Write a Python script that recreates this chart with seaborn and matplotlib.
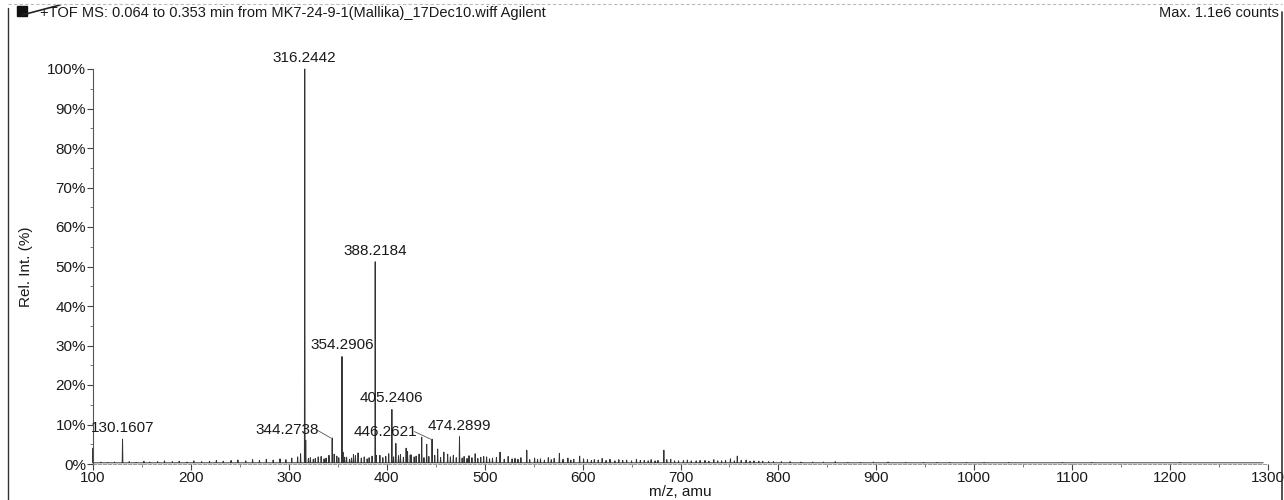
import numpy as np
import pandas as pd
import matplotlib
matplotlib.use("Agg")
import matplotlib.pyplot as plt
from matplotlib.lines import Line2D
from matplotlib.patches import Rectangle
from matplotlib.ticker import MultipleLocator, FixedLocator
import seaborn as sns

# ---- spectrum data (m/z, relative intensity %) ----
labelled_mz = [130.1607, 316.2442, 344.2738, 354.2906, 388.2184, 405.2406, 446.2621, 474.2899]
labelled_ri = [6.3, 100.0, 6.6, 27.2, 51.2, 13.8, 6.3, 6.9]

minor_mz = [100.0, 317.25, 346.3, 355.3, 370.7, 389.2, 409.3, 419.8, 421.2, 435.7, 440.8,
            452.0, 458.3, 462.2, 490.3, 515.7, 543.0, 576.3, 597.0, 683.0, 758.0]
minor_ri = [4.0, 6.0, 2.5, 3.0, 2.8, 2.2, 5.2, 4.0, 3.2, 6.8, 5.0,
            3.8, 3.0, 2.5, 2.6, 3.0, 3.5, 2.7, 2.0, 3.5, 2.0]

noise_mz = [108, 115, 122, 137, 144, 152, 158, 166, 173, 181, 188, 196, 203, 211, 219,
            226, 233, 241, 248, 256, 263, 270, 277, 284, 291, 297, 303, 309, 312, 320,
            322, 325, 327, 330, 333, 336, 338, 341, 349, 351, 357, 359, 362, 364, 366,
            368, 374, 377, 380, 382, 385, 393, 396, 399, 402, 407, 412, 414, 417, 424,
            425, 428, 430, 433, 438, 443, 449, 455, 465, 468, 471, 477, 479, 482, 484,
            487, 493, 496, 499, 502, 505, 508, 512, 520, 524, 528, 531, 534, 537, 546,
            551, 554, 557, 561, 565, 568, 571, 580, 585, 588, 591, 601, 605, 609, 612,
            616, 620, 624, 628, 633, 637, 641, 645, 650, 655, 659, 663, 667, 670, 674,
            677, 686, 690, 694, 698, 703, 707, 711, 716, 720, 725, 729, 734, 738, 742,
            746, 751, 755, 762, 767, 771, 775, 780, 784, 790, 795, 803, 812, 823, 835,
            846, 858, 871, 884, 897, 912, 930, 948, 962, 975, 992, 1010, 1035, 1060,
            1090, 1120, 1150, 1180, 1210, 1240, 1270]
noise_ri = [0.5, 0.4, 0.5, 0.6, 0.4, 0.7, 0.5, 0.6, 0.8, 0.6, 0.7, 0.5, 0.8, 0.6, 0.7,
            0.9, 0.7, 0.9, 1.0, 0.8, 1.1, 0.9, 1.2, 1.0, 1.3, 1.1, 1.5, 1.8, 2.6, 1.4,
            1.6, 1.2, 1.4, 1.8, 1.9, 1.3, 1.5, 2.2, 2.0, 1.6, 1.7, 1.7, 1.2, 1.5, 2.4,
            2.1, 1.5, 1.8, 1.3, 1.6, 2.0, 2.2, 1.6, 1.9, 2.6, 1.8, 2.1, 2.4, 1.7, 2.3,
            2.3, 1.8, 2.0, 2.5, 1.6, 1.9, 2.2, 1.7, 1.8, 2.2, 1.6, 1.5, 1.9, 1.4, 2.1,
            1.6, 1.4, 1.7, 1.9, 1.8, 1.3, 1.5, 1.7, 1.2, 1.9, 1.3, 1.4, 1.2, 1.6, 1.1,
            1.5, 1.2, 1.3, 1.0, 1.6, 1.1, 1.4, 1.2, 1.5, 1.0, 1.2, 1.3, 1.1, 0.9, 1.1,
            1.0, 1.4, 0.9, 1.2, 0.8, 1.1, 0.9, 1.0, 0.8, 1.2, 0.9, 0.9, 0.8, 1.1, 0.8,
            0.9, 1.1, 1.2, 0.8, 0.8, 0.9, 1.0, 0.8, 0.8, 0.9, 0.9, 0.7, 1.1, 0.8, 0.8,
            0.9, 1.3, 0.8, 0.9, 1.0, 0.7, 0.8, 0.7, 0.7, 0.6, 0.6, 0.6, 0.6, 0.5, 0.5,
            0.5, 0.6, 0.4, 0.4, 0.5, 0.5, 0.4, 0.4, 0.4, 0.4, 0.4, 0.4, 0.4, 0.3,
            0.4, 0.4, 0.3, 0.3, 0.4, 0.3, 0.3]

baseline_ri = 0.3
mz_range = [100, 1300]
mz_ticks = [100, 200, 300, 400, 500, 600, 700, 800, 900, 1000, 1100, 1200, 1300]
ri_ticks = [0, 10, 20, 30, 40, 50, 60, 70, 80, 90, 100]

title_left = "+TOF MS: 0.064 to 0.353 min from MK7-24-9-1(Mallika)_17Dec10.wiff Agilent"
title_right = "Max. 1.1e6 counts"

# ---- build a continuous stick trace ----
peaks = sorted(zip(labelled_mz + minor_mz + noise_mz, labelled_ri + minor_ri + noise_ri))
xs, ys = [mz_range[0]], [baseline_ri]
for m, h in peaks:
    xs += [m - 0.35, m, m + 0.35]
    ys += [baseline_ri, h, baseline_ri]
xs.append(1295)
ys.append(baseline_ri)
trace = pd.DataFrame({"mz": xs, "ri": ys})

sns.set_theme(style="ticks")
plt.rcParams["font.family"] = ["Liberation Sans", "DejaVu Sans"]

fig = plt.figure(figsize=(12.84, 5.0), dpi=100)
ax = fig.add_axes([93 / 1284, 36 / 500, 1175 / 1284, 395 / 500])

sns.lineplot(data=trace, x="mz", y="ri", sort=False, estimator=None,
             color="#333333", lw=0.7, ax=ax, clip_on=False)

ax.set_xlim(*mz_range)
ax.set_ylim(0, 100)
ax.xaxis.set_major_locator(FixedLocator(mz_ticks))
ax.xaxis.set_minor_locator(MultipleLocator(50))
ax.yaxis.set_major_locator(FixedLocator(ri_ticks))
ax.yaxis.set_minor_locator(MultipleLocator(5))
ax.set_xticklabels([str(t) for t in mz_ticks])
ax.set_yticklabels([f"{t}%" for t in ri_ticks])
ax.tick_params(axis="both", which="major", length=4, width=0.8, color="#444444",
               labelsize=11, labelcolor="#1a1a1a", pad=1)
ax.tick_params(axis="both", which="minor", length=2, width=0.6, color="#666666")

for side in ("top", "right"):
    ax.spines[side].set_visible(False)
ax.spines["left"].set_color("#555555")
ax.spines["left"].set_linewidth(0.8)
ax.spines["bottom"].set_color("#888888")
ax.spines["bottom"].set_linewidth(0.6)
ax.spines["bottom"].set_linestyle((0, (4, 2)))

ax.set_xlabel("m/z, amu", fontsize=11, color="#1a1a1a", labelpad=0)
ax.set_ylabel("Rel. Int. (%)", fontsize=11, color="#1a1a1a", labelpad=10)

# ---- peak labels ----
offsets = {344.2738: (298.0, 8.7), 446.2621: (398.3, 8.2)}
for m, h in zip(labelled_mz, labelled_ri):
    lbl = f"{m:.4f}"
    if m in offsets:
        tx, ty = offsets[m]
        ax.text(tx, ty, lbl, ha="center", va="center", fontsize=11, color="#1a1a1a")
        ax.plot([tx + 30, m - 1.5], [ty, h], color="#555555", lw=0.6)
    else:
        ax.annotate(lbl, (m, h), xytext=(0, 3), textcoords="offset points",
                    ha="center", va="bottom", fontsize=11, color="#1a1a1a",
                    annotation_clip=False)

# ---- header and frame ----
fig.text(40 / 1284, 1 - 13 / 500, title_left, ha="left", va="center",
         fontsize=10.5, color="#1a1a1a")
fig.text(1279 / 1284, 1 - 13 / 500, title_right, ha="right", va="center",
         fontsize=10.5, color="#1a1a1a")
fig.add_artist(Rectangle((17 / 1284, 1 - 16 / 500), 10 / 1284, 10 / 500,
                         transform=fig.transFigure, color="#111111"))
fig.add_artist(Line2D([22 / 1284, 60 / 1284], [1 - 15 / 500, 1 - 5 / 500],
                      transform=fig.transFigure, color="#222222", lw=1.2))
fig.add_artist(Line2D([8 / 1284, 8 / 1284], [0, 1 - 8 / 500],
                      transform=fig.transFigure, color="#333333", lw=1.0))
fig.add_artist(Line2D([1282 / 1284, 1282 / 1284], [0, 1 - 12 / 500],
                      transform=fig.transFigure, color="#333333", lw=1.2))
fig.add_artist(Line2D([8 / 1284, 1282 / 1284], [1 - 4 / 500, 1 - 4 / 500],
                      transform=fig.transFigure, color="#bbbbbb", lw=0.8,
                      linestyle=(0, (3, 2))))

fig.savefig("out.png", dpi=100, facecolor="white")
